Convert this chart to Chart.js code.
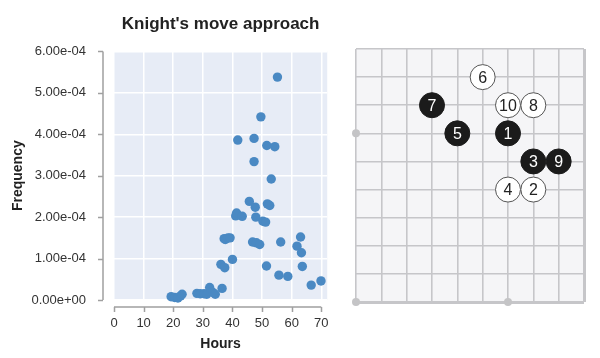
<!DOCTYPE html>
<html>
<head>
<meta charset="utf-8">
<script src="https://cdn.jsdelivr.net/npm/chart.js@4"></script>
<style>
  html, body { margin: 0; padding: 0; background: #fff; }
  #wrap { position: relative; width: 600px; height: 358px; }
  #freqBox { position: absolute; left: 0; top: 0; width: 345px; height: 358px; }
  #boardBox { position: absolute; left: 340px; top: 0; width: 260px; height: 358px; }
</style>
</head>
<body>
<div id="wrap">
  <div id="freqBox"><canvas id="freqChart"></canvas></div>
  <div id="boardBox"><canvas id="boardChart"></canvas></div>
</div>
<script>
// left panel: hours vs frequency
const hours = [19.3, 20.5, 21.6, 22.5, 23.0, 28.0, 29.1, 30.4, 31.3, 32.3, 33.4, 34.2, 36.5, 36.1, 37.4,
  37.2, 37.6, 38.5, 39.2, 40.0, 41.1, 41.4, 41.8, 43.3, 45.7, 46.8, 47.3, 47.3, 47.7, 47.9, 48.1, 49.2,
  49.6, 50.3, 51.2, 51.5, 51.6, 51.8, 52.6, 53.1, 54.3, 55.2, 55.7, 56.3, 58.7, 61.8, 63.0, 63.3, 63.6,
  66.6, 69.9];
const frequency = [0.08e-4, 0.06e-4, 0.05e-4, 0.10e-4, 0.14e-4, 0.16e-4, 0.15e-4, 0.15e-4, 0.14e-4, 0.30e-4,
  0.18e-4, 0.14e-4, 0.28e-4, 0.86e-4, 0.78e-4, 1.48e-4, 1.46e-4, 1.50e-4, 1.50e-4, 0.98e-4, 2.03e-4, 2.10e-4,
  3.86e-4, 2.02e-4, 2.38e-4, 1.40e-4, 3.90e-4, 3.34e-4, 2.24e-4, 2.00e-4, 1.38e-4, 1.34e-4, 4.42e-4, 1.90e-4,
  1.88e-4, 0.82e-4, 3.73e-4, 2.32e-4, 2.28e-4, 2.92e-4, 3.70e-4, 5.38e-4, 0.60e-4, 1.40e-4, 0.57e-4, 1.30e-4,
  1.52e-4, 1.14e-4, 0.81e-4, 0.36e-4, 0.46e-4];
const xTickValues = [0, 10, 20, 30, 40, 50, 60, 70];
const yTickValues = [0, 1e-4, 2e-4, 3e-4, 4e-4, 5e-4, 6e-4];
const yTickLabels = ['0.00e+00', '1.00e-04', '2.00e-04', '3.00e-04', '4.00e-04', '5.00e-04', '6.00e-04'];

// right panel: knight's move board
const moveNumbers = [1, 2, 3, 4, 5, 6, 7, 8, 9, 10];
const moveCols = [6, 7, 7, 6, 4, 5, 3, 7, 8, 6];
const moveRows = [6, 4, 5, 4, 6, 8, 7, 7, 5, 7];
const moveIsBlack = [true, false, true, false, true, false, true, false, true, false];
const markerCols = [0, 0, 6];
const markerRows = [6, 0, 0];
const boardTicks = [0, 1, 2, 3, 4, 5, 6, 7, 8, 9];

const FONT = '"Liberation Sans", Arial, Helvetica, sans-serif';

// fills the plot area
const plotBg = {
  id: 'plotBg',
  beforeDraw(chart, args, opts) {
    const { ctx, chartArea: a } = chart;
    ctx.save();
    ctx.fillStyle = opts.color;
    ctx.fillRect(a.left, a.top, a.right - a.left, a.bottom - a.top);
    ctx.restore();
  }
};

// seaborn-like detached spines, trimmed to the tick range
const offsetAxes = {
  id: 'offsetAxes',
  afterDraw(chart, args, opts) {
    const { ctx, chartArea: a, scales: { x, y } } = chart;
    ctx.save();
    ctx.strokeStyle = opts.color;
    ctx.lineWidth = opts.width;
    ctx.beginPath();
    const yx = a.left - opts.yGap;
    ctx.moveTo(yx, y.getPixelForValue(yTickValues[0]));
    ctx.lineTo(yx, y.getPixelForValue(yTickValues[yTickValues.length - 1]));
    yTickValues.forEach(v => {
      const p = Math.round(y.getPixelForValue(v)) + 0.5;
      ctx.moveTo(yx, p);
      ctx.lineTo(yx - opts.tick, p);
    });
    const xy = a.bottom + opts.xGap;
    ctx.moveTo(x.getPixelForValue(xTickValues[0]), xy);
    ctx.lineTo(x.getPixelForValue(xTickValues[xTickValues.length - 1]), xy);
    xTickValues.forEach(v => {
      const p = Math.round(x.getPixelForValue(v)) + 0.5;
      ctx.moveTo(p, xy);
      ctx.lineTo(p, xy + opts.tick);
    });
    ctx.stroke();
    ctx.restore();
  }
};

new Chart(document.getElementById('freqChart'), {
  type: 'scatter',
  data: {
    datasets: [{
      data: hours.map((h, i) => ({ x: h, y: frequency[i] })),
      backgroundColor: '#4a89c3',
      borderWidth: 0,
      pointRadius: 4.7,
      clip: false
    }]
  },
  plugins: [plotBg, offsetAxes],
  options: {
    responsive: true,
    maintainAspectRatio: false,
    animation: false,
    layout: { padding: { left: 10, right: 17, top: 0, bottom: 0 } },
    scales: {
      x: {
        min: 0,
        max: 72,
        afterBuildTicks: s => { s.ticks = xTickValues.map(v => ({ value: v })); },
        afterFit: s => { s.height = 58; },
        grid: { color: '#ffffff', lineWidth: 1.5, drawTicks: false },
        border: { display: false },
        ticks: { color: '#333', font: { family: FONT, size: 13 }, padding: 16, maxRotation: 0 },
        title: { display: true, text: 'Hours', color: '#222', font: { family: FONT, size: 14, weight: 'bold' }, padding: { top: 0, bottom: 5 } }
      },
      y: {
        min: 0,
        max: 6e-4,
        afterBuildTicks: s => { s.ticks = yTickValues.map(v => ({ value: v })); },
        afterFit: s => { s.width = 104; },
        grid: { color: '#ffffff', lineWidth: 1.5, drawTicks: false },
        border: { display: false },
        ticks: { color: '#333', font: { family: FONT, size: 13 }, padding: 28, callback: (v, i) => yTickLabels[i] },
        title: { display: true, text: 'Frequency', color: '#222', font: { family: FONT, size: 14, weight: 'bold' }, padding: { top: 0, bottom: 0 } }
      }
    },
    plugins: {
      legend: { display: false },
      tooltip: { enabled: false },
      title: {
        display: true,
        fullSize: false,
        text: "Knight's move approach",
        color: '#222',
        font: { family: FONT, size: 17, weight: 'bold' },
        padding: { top: 14, bottom: 17 }
      },
      plotBg: { color: '#e7ecf6' },
      offsetAxes: { color: '#a0a0a0', width: 1.5, yGap: 11, xGap: 7, tick: 5 }
    }
  }
});

// numbers on the stones
const stoneLabels = {
  id: 'stoneLabels',
  afterDatasetsDraw(chart) {
    const { ctx } = chart;
    const meta = chart.getDatasetMeta(1);
    ctx.save();
    ctx.font = '16px ' + FONT;
    ctx.textAlign = 'center';
    ctx.textBaseline = 'middle';
    meta.data.forEach((pt, i) => {
      ctx.fillStyle = moveIsBlack[i] ? '#ffffff' : '#222222';
      ctx.fillText(String(moveNumbers[i]), pt.x, pt.y + 1);
    });
    ctx.restore();
  }
};

const boardGrid = edgeValue => ({
  color: '#c6c6c9',
  lineWidth: c => (c.tick && c.tick.value === edgeValue ? 3 : 1.6),
  drawTicks: false
});

new Chart(document.getElementById('boardChart'), {
  type: 'scatter',
  data: {
    datasets: [{
      data: markerCols.map((c, i) => ({ x: c, y: markerRows[i] })),
      backgroundColor: '#c4c4c6',
      borderWidth: 0,
      pointRadius: 4,
      clip: false
    }, {
      data: moveCols.map((c, i) => ({ x: c, y: moveRows[i] })),
      backgroundColor: moveIsBlack.map(b => (b ? '#1b1b1b' : '#ffffff')),
      borderColor: moveIsBlack.map(b => (b ? '#1b1b1b' : '#555555')),
      borderWidth: 1,
      pointRadius: 12.5,
      clip: false
    }]
  },
  plugins: [plotBg, stoneLabels],
  options: {
    responsive: true,
    maintainAspectRatio: false,
    animation: false,
    layout: { padding: { left: 16, right: 16, top: 49, bottom: 56 } },
    scales: {
      x: {
        min: 0,
        max: 9,
        afterBuildTicks: s => { s.ticks = boardTicks.map(v => ({ value: v })); },
        afterFit: s => { s.height = 0; },
        grid: boardGrid(9),
        border: { display: false },
        ticks: { display: false }
      },
      y: {
        min: 0,
        max: 9,
        afterBuildTicks: s => { s.ticks = boardTicks.map(v => ({ value: v })); },
        afterFit: s => { s.width = 0; },
        grid: boardGrid(0),
        border: { display: false },
        ticks: { display: false }
      }
    },
    plugins: {
      legend: { display: false },
      tooltip: { enabled: false },
      plotBg: { color: '#f5f5f7' }
    }
  }
});
</script>
</body>
</html>
